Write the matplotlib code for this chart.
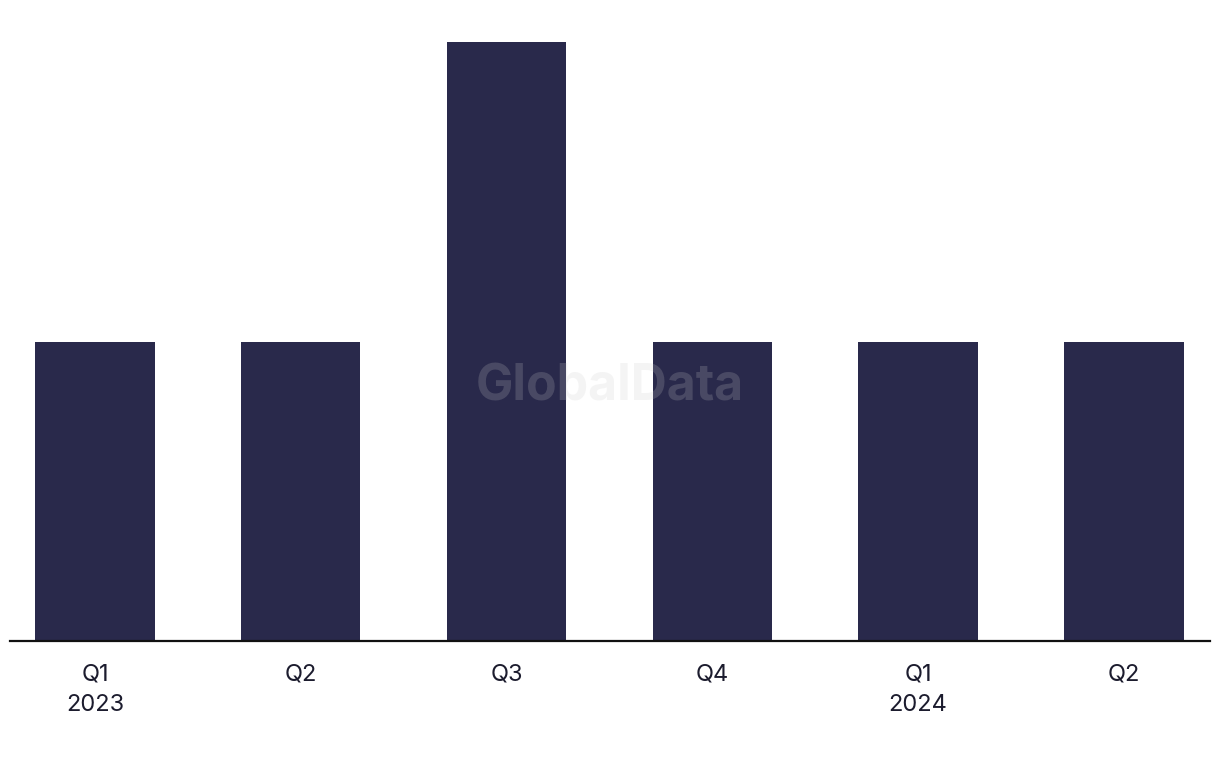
import matplotlib.pyplot as plt

# Quarterly values
quarters = ['Q1\n2023', 'Q2', 'Q3', 'Q4', 'Q1\n2024', 'Q2']
values = [1, 1, 2, 1, 1, 1]

bar_color = '#29294b'

plt.rcParams['font.family'] = ['Inter', 'DejaVu Sans']

fig = plt.figure(figsize=(12.2, 7.68), dpi=100)
ax = fig.add_axes([10 / 1220, 127 / 768, 1200 / 1220, 599 / 768])

x = range(len(quarters))
ax.bar(x, values, width=0.58, color=bar_color)

ax.set_xlim(-0.413, 5.418)
ax.set_ylim(0, 2)
ax.set_xticks(list(x))
ax.set_xticklabels(quarters, fontsize=17, color='#1c1c2e', linespacing=1.45)
ax.tick_params(axis='x', length=0, pad=16.5)
ax.set_yticks([])

for side in ['top', 'right', 'left']:
    ax.spines[side].set_visible(False)
ax.spines['bottom'].set_linewidth(1.6)
ax.spines['bottom'].set_color('#111111')

# watermark
fig.text(610 / 1220, 1 - 387 / 768, 'GlobalData', fontsize=36, fontweight='bold',
         color='#cacaca', alpha=0.2, ha='center', va='center')

fig.savefig('out.png', dpi=100)
